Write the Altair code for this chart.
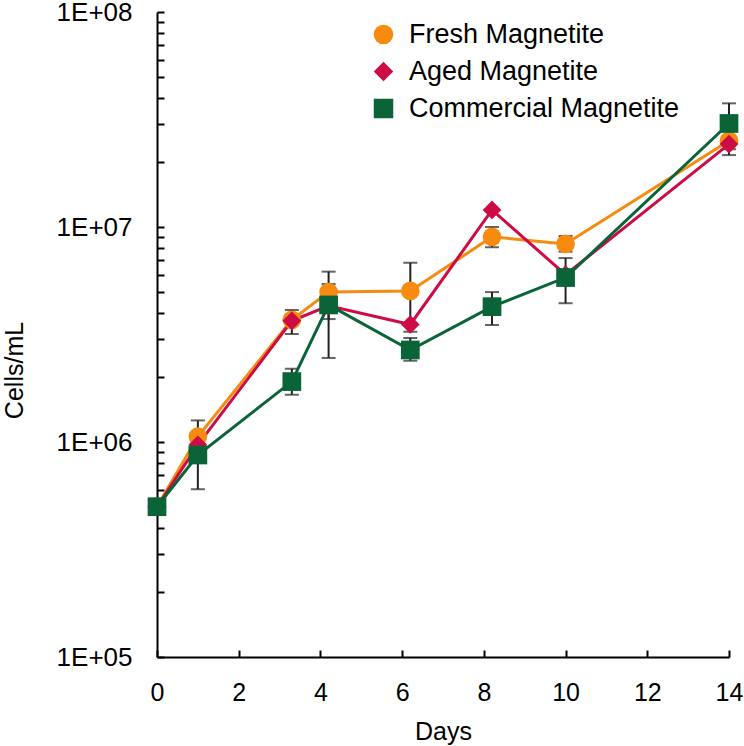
import altair as alt
import pandas as pd

# Sampling days
days = [0, 1, 3.3, 4.2, 6.2, 8.2, 10, 14]

# Mean cell densities (cells/mL)
fresh = [5.0e5, 1.06e6, 3.70e6, 4.98e6, 5.04e6, 9.0e6, 8.34e6, 2.52e7]
aged = [5.0e5, 9.7e5, 3.66e6, 4.30e6, 3.52e6, 1.20e7, 6.0e6, 2.43e7]
commercial = [5.0e5, 8.7e5, 1.91e6, 4.34e6, 2.68e6, 4.26e6, 5.82e6, 3.03e7]

# Error-bar bounds (None where no bar is drawn)
fresh_lo = [None, None, None, None, 3.26e6, 8.05e6, 7.68e6, 2.16e7]
fresh_hi = [None, None, None, None, 6.82e6, 1.00e7, 9.08e6, 2.90e7]
aged_lo = [None, 6.03e5, 3.18e6, 2.46e6, None, None, None, None]
aged_hi = [None, 1.26e6, 4.11e6, 6.20e6, None, None, None, None]
commercial_lo = [None, None, 1.66e6, 3.73e6, 2.39e6, 3.50e6, 4.42e6, 2.30e7]
commercial_hi = [None, None, 2.19e6, 5.43e6, 3.05e6, 4.98e6, 7.17e6, 3.76e7]

series_names = ["Fresh Magnetite", "Aged Magnetite", "Commercial Magnetite"]
series_colors = ["#F78B0F", "#CD0C46", "#0A6437"]
series_shapes = ["circle", "diamond", "square"]

x_ticks = [0, 2, 4, 6, 8, 10, 12, 14]
y_major = [1e5, 1e6, 1e7, 1e8]
y_minor = [k * 10 ** e for e in (5, 6, 7) for k in range(1, 10)] + [1e8]

rows = []
for name, vals, lo, hi in [
    (series_names[0], fresh, fresh_lo, fresh_hi),
    (series_names[1], aged, aged_lo, aged_hi),
    (series_names[2], commercial, commercial_lo, commercial_hi),
]:
    for d, v, l, h in zip(days, vals, lo, hi):
        rows.append({"day": d, "series": name, "cells": v, "lo": l, "hi": h})
df = pd.DataFrame(rows)

FONT = "Liberation Sans"
W, H = 572, 645

x_scale = alt.Scale(domain=[0, 14], nice=False, zero=False)
y_scale = alt.Scale(type="log", domain=[1e5, 1e8], nice=False)

x_axis = alt.Axis(
    title="Days", values=x_ticks, ticks=False, tickSize=0, grid=False,
    domainColor="black", domainWidth=2, labelFlush=False, labelOverlap=False,
    labelPadding=43, labelBaseline="alphabetic", labelFont=FONT, labelFontSize=25,
    labelColor="black", titleFont=FONT, titleFontSize=25, titleFontWeight="normal",
    titleColor="black", titleY=82, titleBaseline="alphabetic",
)
y_axis = alt.Axis(
    title="Cells/mL", values=y_major,
    labelExpr="'1E+0' + round(log(datum.value) / LN10)",
    ticks=False, tickSize=0, grid=False, domainColor="black", domainWidth=2,
    labelPadding=25, labelFont=FONT, labelFontSize=26, labelColor="black",
    labelOverlap=False, titleFont=FONT, titleFontSize=25, titleFontWeight="normal",
    titleColor="black", titleX=-130, titleY=358,
)

base = alt.Chart(df)
x_enc = alt.X("day:Q", scale=x_scale, axis=x_axis)

has_err = base.transform_filter("isValid(datum.lo)")
err_color = "#222222"

bars = has_err.mark_rule(color=err_color, strokeWidth=2).encode(
    x=x_enc, y=alt.Y("lo:Q", scale=y_scale, axis=y_axis), y2="hi:Q"
)
caps_lo = has_err.mark_tick(orient="horizontal", size=14, thickness=2, color=err_color).encode(
    x=x_enc, y=alt.Y("lo:Q", scale=y_scale, axis=y_axis)
)
caps_hi = has_err.mark_tick(orient="horizontal", size=14, thickness=2, color=err_color).encode(
    x=x_enc, y=alt.Y("hi:Q", scale=y_scale, axis=y_axis)
)

# One connecting line per series, each in its own colour
line_layers = [
    base.transform_filter(alt.datum.series == name)
    .mark_line(strokeWidth=3, color=col)
    .encode(x=x_enc, y=alt.Y("cells:Q", scale=y_scale, axis=y_axis))
    for name, col in zip(series_names, series_colors)
]

color_scale = alt.Scale(domain=series_names, range=series_colors)
shape_scale = alt.Scale(domain=series_names, range=series_shapes)

points = base.mark_point(filled=True, opacity=1, size=350, strokeWidth=0).encode(
    x=x_enc,
    y=alt.Y("cells:Q", scale=y_scale, axis=y_axis),
    color=alt.Color("series:N", scale=color_scale, legend=alt.Legend(title=None)),
    shape=alt.Shape("series:N", scale=shape_scale, legend=alt.Legend(title=None)),
)

data_layer = alt.layer(bars, caps_lo, caps_hi, *line_layers, points)

# Inward-pointing tick marks: axes placed on the opposite side and shifted across the plot
tick_layer = base.mark_point(opacity=0).encode(
    x=alt.X("day:Q", scale=alt.Scale(domain=[0, 14], nice=False, zero=False),
            axis=alt.Axis(orient="top", offset=-H, values=x_ticks, labels=False,
                          domain=False, grid=False, title=None, tickSize=7,
                          tickWidth=2, tickColor="black")),
    y=alt.Y("cells:Q", scale=alt.Scale(type="log", domain=[1e5, 1e8], nice=False),
            axis=alt.Axis(orient="right", offset=-W, values=y_minor, labels=False,
                          domain=False, grid=False, title=None, tickSize=7,
                          tickWidth=2, tickColor="black")),
)

chart = (
    alt.layer(data_layer, tick_layer)
    .resolve_scale(x="independent", y="independent")
    .properties(
        width=W, height=H,
        autosize=alt.AutoSizeParams(type="none"),
        padding={"left": 157, "top": 12, "right": 15, "bottom": 89},
        background="white",
    )
    .configure_view(strokeWidth=0)
    .configure_legend(
        orient="none", legendX=213, legendY=9, padding=0,
        labelFont=FONT, labelFontSize=27, labelColor="black", labelOffset=12,
        rowPadding=9, symbolSize=380, symbolStrokeWidth=0, symbolOpacity=1,
        labelLimit=400,
    )
)

chart.save("out.html", embed_options={"renderer": "svg", "actions": False})
